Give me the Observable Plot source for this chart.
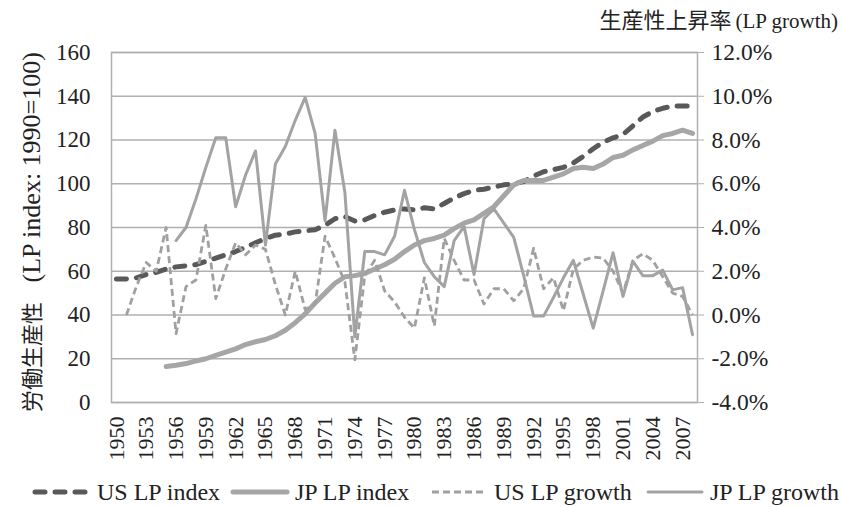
<!DOCTYPE html>
<html><head><meta charset="utf-8">
<script src="https://cdn.jsdelivr.net/npm/d3@7"></script>
<script src="https://cdn.jsdelivr.net/npm/@observablehq/plot@0.6"></script>
<style>
body{margin:0;background:#fff;width:842px;height:507px;overflow:hidden;position:relative;font-family:"Liberation Serif","Noto Sans CJK JP",serif;color:#222}
#title{position:absolute;right:4px;top:2px;white-space:nowrap}
#title .jp{font-family:"Noto Sans CJK JP",sans-serif;font-size:22px}
#title .en{font-size:21px}
#chart{position:absolute;left:0;top:34px}
#ylab{position:absolute;left:-170px;top:217px;width:400px;height:30px;line-height:30px;text-align:center;transform:rotate(-90deg);transform-origin:center;white-space:nowrap;font-size:26px}
#ylab .jp{font-family:"Noto Sans CJK JP",sans-serif;font-size:22px}
#legend{position:absolute;left:0;top:478px;width:842px;height:28px;font-size:24px;white-space:nowrap}
#legend .item{position:absolute;top:0;display:flex;align-items:center;height:28px}
#legend svg{margin-right:4px}
</style>
</head><body>
<div id="title"><span class="jp">生産性上昇率</span> <span class="en">(LP growth)</span></div>
<div id="ylab"><span class="jp">労働生産性</span>&nbsp;&nbsp;&nbsp;(LP index: 1990=100)</div>
<div id="chart"></div>
<div id="legend"></div>
<script>
const years = [1950,1951,1952,1953,1954,1955,1956,1957,1958,1959,
  1960,1961,1962,1963,1964,1965,1966,1967,1968,1969,
  1970,1971,1972,1973,1974,1975,1976,1977,1978,1979,
  1980,1981,1982,1983,1984,1985,1986,1987,1988,1989,
  1990,1991,1992,1993,1994,1995,1996,1997,1998,1999,
  2000,2001,2002,2003,2004,2005,2006,2007,2008];
const xTicks = [1950,1953,1956,1959,1962,1965,1968,1971,1974,1977,1980,1983,1986,1989,1992,1995,1998,2001,2004,2007];
const leftTicks = [0,20,40,60,80,100,120,140,160];
const rightDomain = [-4,12];

// US LP index, 1950-2008
const usIndex = [56.5,56.5,57,58.5,59.5,61,62,62.5,63,64.5,
  66,67.5,69,71,73,75,76.5,77,78,78.5,
  79,81,84,85,83,83.5,85.5,87,88,88.5,
  88,89,88.5,91,93.5,95.5,97,97.5,98.5,99.5,
  100,101,103.5,105.5,106.5,107.5,109.5,112.5,116,119,
  121,122.5,126.5,130.5,133,134.5,135.5,135.5,135.5];
// JP LP index, 1955-2008
const jpIndexStart = 1955;
const jpIndex = [16.5,17,17.8,19,20,
  21.5,23,24.5,26.5,27.8,28.8,30.5,33,36.5,40.5,
  45.5,50,54.5,57.5,58,59,61,63,65.5,69,
  72,74,75,76.5,79.5,82,83.5,86.5,89.5,94.5,
  99.5,101.5,101.5,101.5,103,104.5,107,107.5,107,109,
  112,113,115.5,117.5,119.5,122,123,124.5,123];
// US LP growth (%), 1951-2008
const usGrowthStart = 1951;
const usGrowth = [0.0,1.3,2.4,2.0,4.0,-0.85,1.3,1.6,4.1,
  0.75,2.1,3.3,2.75,3.2,3.0,1.4,0.0,2.0,0.25,
  0.5,3.6,2.6,1.5,-2.05,1.8,2.5,1.1,0.6,-0.1,
  -0.6,1.7,-0.5,3.5,2.5,1.6,1.6,0.5,1.2,1.2,
  0.65,1.2,3.05,1.2,1.7,0.2,2.1,2.5,2.65,2.6,
  2.0,1.0,2.5,2.8,2.5,1.75,1.0,0.85,0.0];
// JP LP growth (%), 1956-2008
const jpGrowthStart = 1956;
const jpGrowth = [3.4,4.0,5.3,6.75,
  8.1,8.1,4.95,6.4,7.5,3.2,6.9,7.7,8.9,9.95,
  8.3,4.3,8.45,5.6,-1.0,2.9,2.9,2.75,3.6,5.7,
  3.9,2.4,1.75,1.3,3.4,4.05,1.85,4.4,4.85,4.2,
  3.55,1.8,-0.05,-0.05,0.8,1.7,2.5,0.95,-0.6,1.1,
  2.85,0.85,2.45,1.8,1.8,2.05,1.15,1.25,-0.9];

const seriesNames = ["US LP index","JP LP index","US LP growth","JP LP growth"];

function toRows(startYear, vals){
  const off = years.indexOf(startYear);
  return vals.map((v,i)=>({year: years[off+i], v}));
}
const usIdxData = toRows(1950, usIndex);
const jpIdxData = toRows(jpIndexStart, jpIndex);
const usGrData = toRows(usGrowthStart, usGrowth);
const jpGrData = toRows(jpGrowthStart, jpGrowth);

// secondary (growth) axis mapped onto primary index scale
const g2l = d3.scaleLinear().domain(rightDomain).range([leftTicks[0], leftTicks[leftTicks.length-1]]);

const styles = {
  "US LP index": {stroke:"#595959", strokeWidth:5, strokeDasharray:"10,10", strokeLinecap:"round"},
  "JP LP index": {stroke:"#a6a6a6", strokeWidth:5, strokeLinecap:"round"},
  "US LP growth": {stroke:"#a0a0a0", strokeWidth:2.8, strokeDasharray:"7,4", strokeLinecap:"butt"},
  "JP LP growth": {stroke:"#a3a3a3", strokeWidth:3, strokeLinecap:"round"}
};
const gridColor = "#b0b0b0";

const chart = Plot.plot({
  width: 842, height: 440,
  marginLeft: 111, marginRight: 145, marginTop: 18, marginBottom: 72,
  style: {fontFamily: '"Liberation Serif", serif', fontSize: "23px", color: "#222", background: "transparent", overflow: "visible"},
  x: {domain: [years[0]-0.5, years[years.length-1]+0.5], label: null},
  y: {domain: [leftTicks[0], leftTicks[leftTicks.length-1]], label: null},
  marks: [
    Plot.gridY(leftTicks, {stroke: gridColor, strokeOpacity: 1, strokeWidth: 1.5}),
    Plot.frame({stroke: gridColor, strokeWidth: 1.5}),
    Plot.axisY(leftTicks, {anchor: "left", tickSize: 0, tickPadding: 21, label: null, fontSize: 23}),
    Plot.axisY(leftTicks, {anchor: "right", tickSize: 6, tickPadding: 8, label: null, fontSize: 23.5, stroke: gridColor,
      tickFormat: d => g2l.invert(d).toFixed(1) + "%"}),
    Plot.axisX(xTicks, {anchor: "bottom", tickSize: 0, tickPadding: 14, tickRotate: -90, label: null, fontSize: 22,
      tickFormat: d3.format("d")}),
    Plot.line(usIdxData, {x: "year", y: "v", ...styles["US LP index"], strokeLinejoin: "round"}),
    Plot.line(jpIdxData, {x: "year", y: "v", ...styles["JP LP index"], strokeLinejoin: "round"}),
    Plot.line(usGrData, {x: "year", y: d => g2l(d.v), ...styles["US LP growth"], strokeLinejoin: "round"}),
    Plot.line(jpGrData, {x: "year", y: d => g2l(d.v), ...styles["JP LP growth"], strokeLinejoin: "round"})
  ]
});
document.getElementById("chart").appendChild(chart);

// legend
const legendLefts = [31, 229, 428, 644];
const legend = d3.select("#legend");
seriesNames.forEach((name, i) => {
  const s = styles[name];
  const it = legend.append("div").attr("class", "item").style("left", legendLefts[i] + "px");
  const sv = it.append("svg").attr("width", 62).attr("height", 12);
  sv.append("line").attr("x1", 4).attr("x2", 58).attr("y1", 6).attr("y2", 6)
    .attr("stroke", s.stroke).attr("stroke-width", s.strokeWidth)
    .attr("stroke-dasharray", s.strokeDasharray || null)
    .attr("stroke-linecap", s.strokeLinecap);
  it.append("span").text(name);
});
</script>
</body></html>
